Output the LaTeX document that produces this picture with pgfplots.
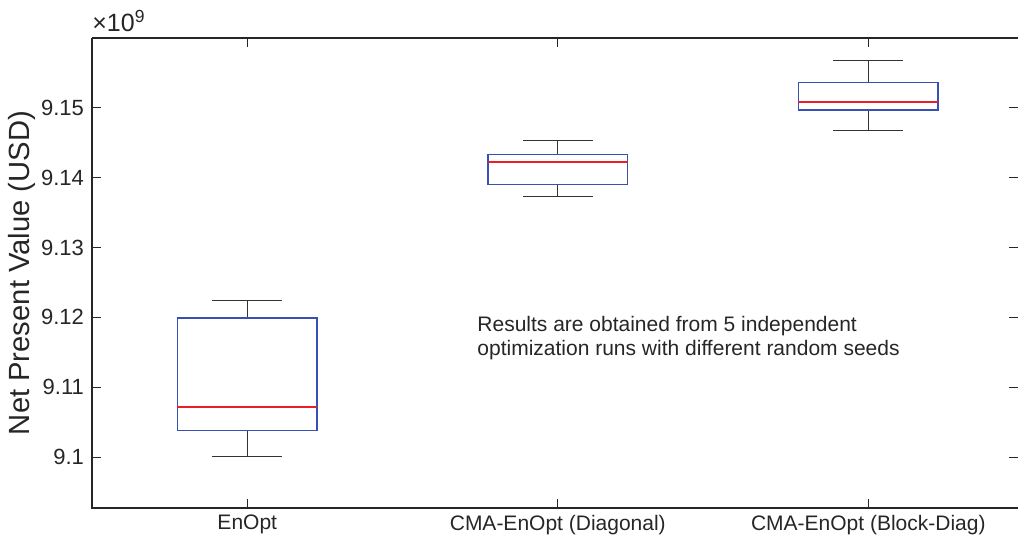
\documentclass[border=0pt]{standalone}
\usepackage{fontspec}
\setmainfont{Liberation Sans}
\usepackage{pgfplots}
\pgfplotsset{compat=1.18}
\usepgfplotslibrary{statistics}
\definecolor{boxblue}{RGB}{55,80,180}
\definecolor{medred}{RGB}{235,30,40}
\pgfplotsset{
  mybox/.style={
    boxplot prepared={#1,
      every box/.style={draw=boxblue, line width=0.8pt},
      every median/.style={draw=medred, line width=1pt},
      every whisker/.style={draw=black!80, line width=0.6pt}},
    draw=boxblue, mark=none, solid}
}
\begin{document}
\begin{tikzpicture}
\begin{axis}[
  scale only axis, width=463pt, height=235pt,
  xmin=0.5, xmax=3.482, ymin=9.0927, ymax=9.16,
  axis line style={draw=none},
  tick align=inside, major tick length=4.5pt,
  tick style={black!85, line width=0.4pt},
  xtick={1,2,3},
  xticklabels={EnOpt, CMA-EnOpt (Diagonal), CMA-EnOpt (Block-Diag)},
  ytick={9.1,9.11,9.12,9.13,9.14,9.15},
  yticklabels={9.1,9.11,9.12,9.13,9.14,9.15},
  ticklabel style={font=\fontsize{10.5}{12}\selectfont, text=black!85},
  yticklabel style={font=\fontsize{11}{12}\selectfont, xshift=-0.5pt},
  ylabel={Net Present Value (USD)},
  every axis y label/.style={at={(axis description cs:-0.0756,0.5)},rotate=90,anchor=center,font=\fontsize{14.6}{16}\selectfont,text=black!85},
  clip=false,
  boxplot/draw direction=y,
  boxplot/box extend=0.45,
  boxplot/whisker extend=0.225,
]
\addplot[mybox={draw position=1,
  lower whisker=9.1001, lower quartile=9.1038, median=9.10715,
  upper quartile=9.1199, upper whisker=9.1224}] coordinates {};
\addplot[mybox={draw position=2,
  lower whisker=9.13735, lower quartile=9.1390, median=9.14218,
  upper quartile=9.1433, upper whisker=9.1453}] coordinates {};
\addplot[mybox={draw position=3,
  lower whisker=9.1467, lower quartile=9.14971, median=9.15086,
  upper quartile=9.15364, upper whisker=9.15683}] coordinates {};
\draw[line width=0.8pt, black!85] (rel axis cs:0,1) -- (rel axis cs:0,0) -- (rel axis cs:1,0);
\draw[line width=0.8pt, black!85] (rel axis cs:0,1) -- (rel axis cs:1,1);
\node[anchor=base west, inner sep=0pt, font=\fontsize{12.5}{14}\selectfont, text=black!85] at ([yshift=3.5pt]rel axis cs:0,1) {×10\textsuperscript{9}};
\node[anchor=north west, align=left, inner sep=0pt, font=\fontsize{10.5}{12.2}\selectfont, text=black!85] at (axis cs:1.74,9.1202) {Results are obtained from 5 independent\\optimization runs with different random seeds};
\end{axis}
\pgfresetboundingbox
\path[use as bounding box] (-46pt,-15pt) rectangle (463pt,254pt);
\end{tikzpicture}
\end{document}
